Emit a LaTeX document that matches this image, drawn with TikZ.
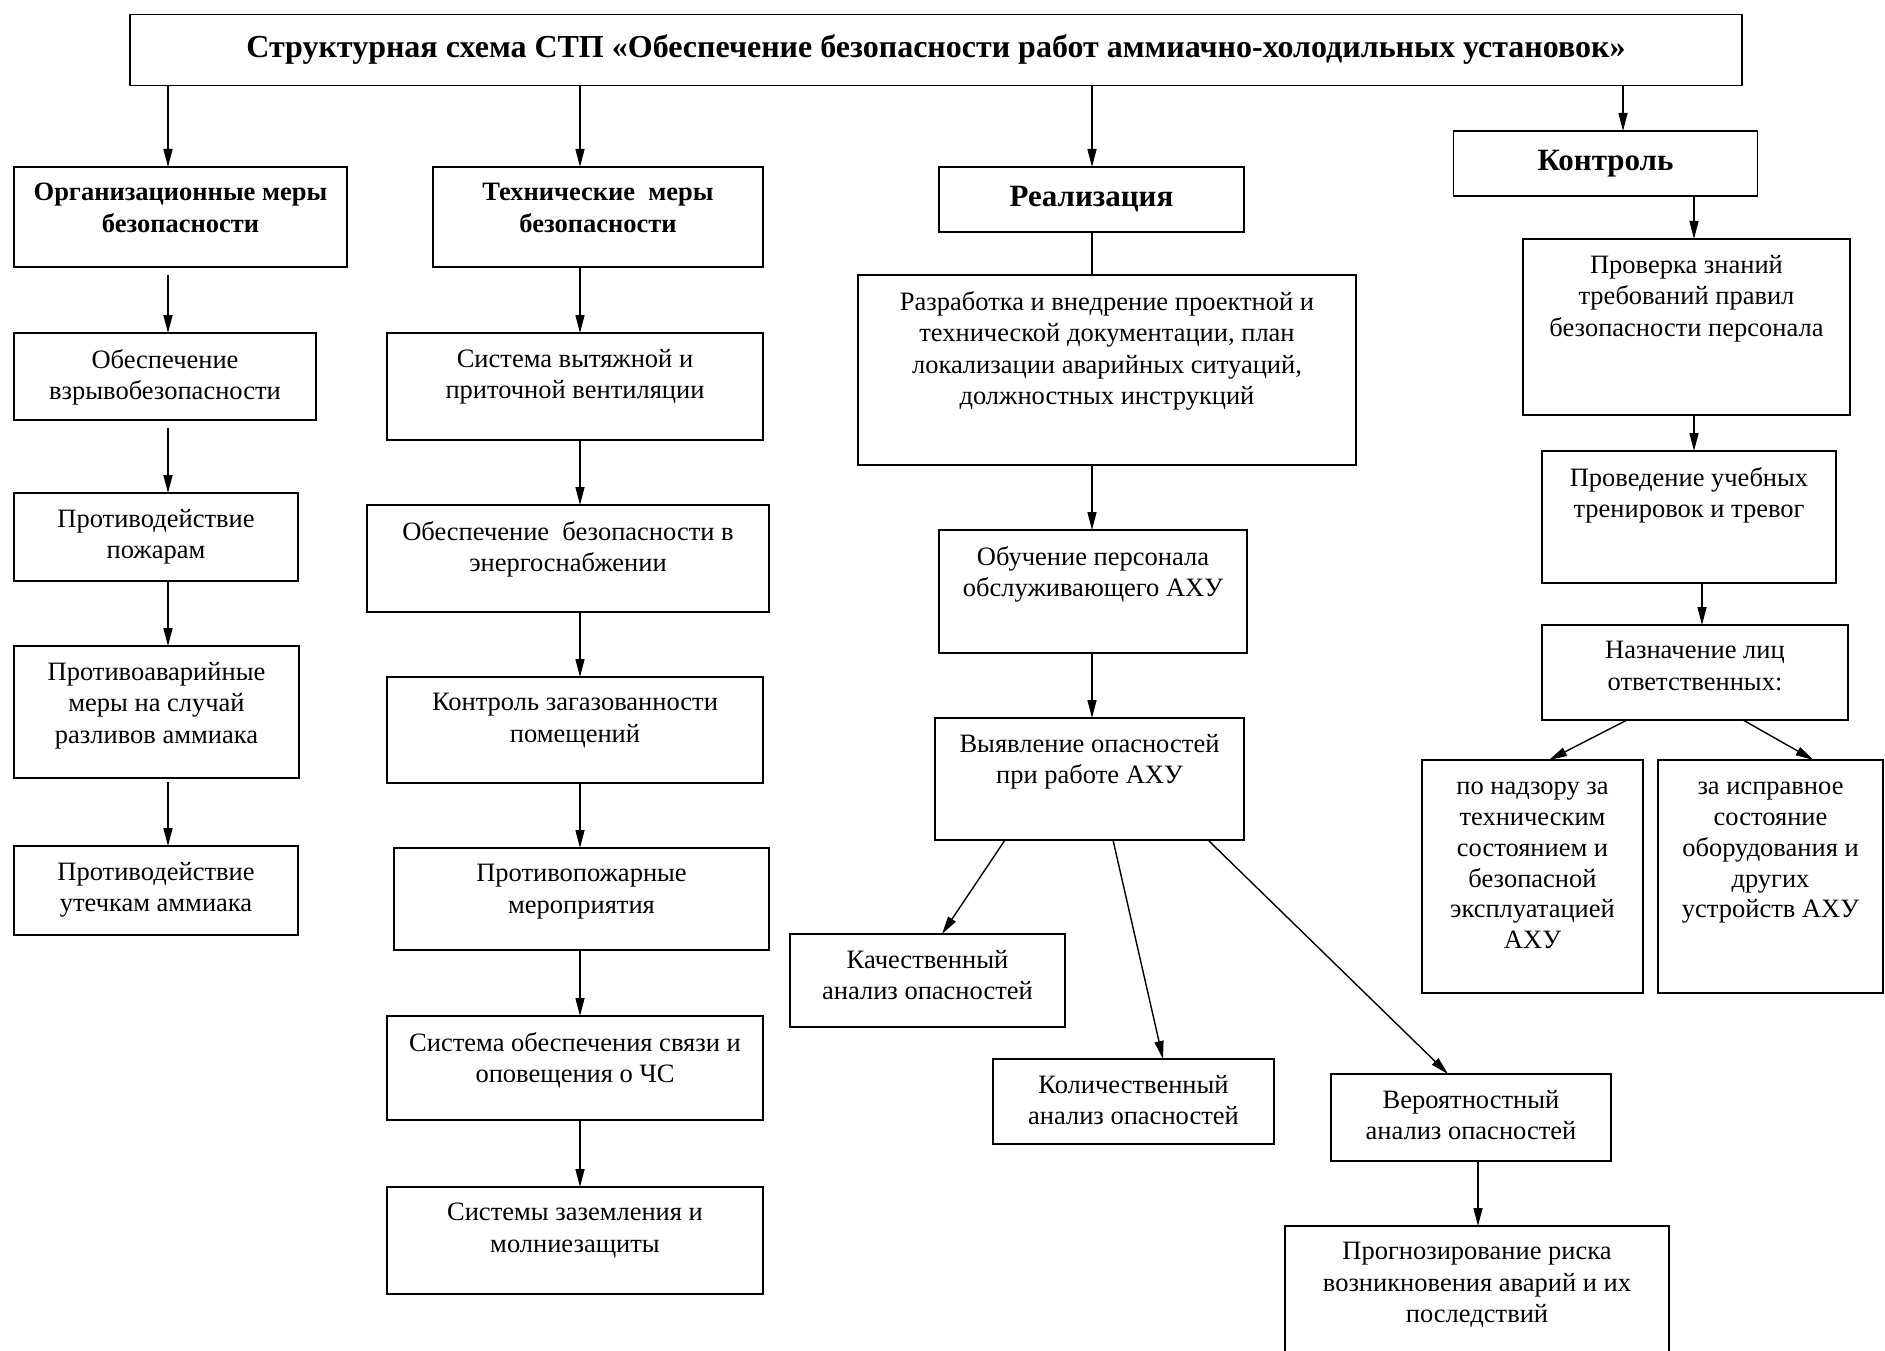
\documentclass[tikz,border=0pt]{standalone}
\usepackage{fontspec}
\setmainfont{Liberation Serif}
\usetikzlibrary{arrows.meta}
\tikzset{
  boxst/.style={draw, line width=1.8pt, inner sep=0pt, outer sep=0pt},
  txt/.style={anchor=north, align=center, inner sep=0pt, font=\fontsize{26.5}{31.5}\selectfont, execute at begin node=\strut},
  arr/.style={-{Triangle[length=18pt,width=9pt]}, line width=1.4pt},
  ln/.style={line width=1.4pt}
}
% #1 extra text style, #2 name, #3 x1, #4 y1, #5 x2, #6 y2, #7 text
\newcommand{\ubox}[7][]{%
  \node[boxst, minimum width={#5-#3}, minimum height={#6-#4}] (#2) at ({(#3+#5)/2},{(#4+#6)/2}) {};
  \node[txt,#1] (#2t) at ({(#3+#5)/2},{#4+16}) {#7};
}
\begin{document}
\begin{tikzpicture}[x=1pt,y=-1pt]
\useasboundingbox (0,0) rectangle (1885,1351);
\fill[white] (0,0) rectangle (1885,1351);

% title
\node[boxst, minimum width=1612, minimum height=71] (title) at (936,50) {};
\node[font=\fontsize{32}{38}\selectfont\bfseries, inner sep=0pt] (titlet) at (title.center) {Структурная схема СТП «Обеспечение безопасности работ аммиачно-холодильных установок»};

% level 1
\ubox[font=\fontsize{26.5}{31.5}\selectfont\bfseries]{org}{14}{167}{347}{267}{Организационные меры\\безопасности}
\ubox[font=\fontsize{26.5}{31.5}\selectfont\bfseries]{tech}{433}{167}{763}{267}{Технические~ меры\\безопасности}
\node[boxst, minimum width=305, minimum height=65] (real) at (1091.5,199.5) {};
\node[font=\fontsize{31}{36}\selectfont\bfseries, inner sep=0pt] (realt) at (real.center) {Реализация};
\node[boxst, minimum width=304, minimum height=65] (kontr) at (1605.5,163.5) {};
\node[font=\fontsize{31}{36}\selectfont\bfseries, inner sep=0pt] (kontrt) at (kontr.center) {Контроль};

% column 1
\ubox{vzryv}{14}{333}{316}{420}{Обеспечение\\взрывобезопасности}
\ubox{pozh}{14}{493}{298}{581}{Противодействие\\пожарам}
\ubox{avar}{14}{646}{299}{778}{Противоаварийные\\меры на случай\\разливов аммиака}
\ubox{utech}{14}{846}{298}{935}{Противодействие\\утечкам аммиака}

% column 2
\ubox{vent}{387}{333}{763}{440}{Система вытяжной и\\приточной вентиляции}
\ubox{energ}{367}{505}{769}{612}{Обеспечение~ безопасности в\\энергоснабжении}
\ubox{gaz}{387}{677}{763}{783}{Контроль загазованности\\помещений}
\ubox{pozhm}{394}{848}{769}{950}{Противопожарные\\мероприятия}
\ubox{svyaz}{387}{1016}{763}{1120}{Система обеспечения связи и\\оповещения о ЧС}
\ubox{zazeml}{387}{1187}{763}{1294}{Системы заземления и\\молниезащиты}

% column 3
\ubox{razr}{858}{275}{1356}{465}{Разработка и внедрение проектной и\\технической документации, план\\локализации аварийных ситуаций,\\должностных инструкций}
\ubox{obuch}{939}{530}{1247}{653}{Обучение персонала\\обслуживающего АХУ}
\ubox{vyyavl}{935}{718}{1244}{840}{Выявление опасностей\\при работе АХУ}
\ubox{kach}{790}{934}{1065}{1027}{Качественный\\анализ опасностей}
\ubox{kolich}{993}{1059}{1274}{1144}{Количественный\\анализ опасностей}
\ubox{veroyat}{1331}{1074}{1611}{1161}{Вероятностный\\анализ опасностей}
\ubox{prognoz}{1285}{1226}{1669}{1375}{Прогнозирование риска\\возникновения аварий и их\\последствий}

% column 4
\ubox{prov}{1523}{239}{1850}{415}{Проверка знаний\\требований правил\\безопасности персонала}
\ubox{trenir}{1542}{451}{1836}{583}{Проведение учебных\\тренировок и тревог}
\ubox{naznach}{1542}{625}{1848}{720}{Назначение лиц\\ответственных:}
\ubox[font=\fontsize{26.5}{30.8}\selectfont, yshift=-6pt]{nadzor}{1422}{760}{1643}{993}{по надзору за\\техническим\\состоянием и\\безопасной\\эксплуатацией\\АХУ}
\ubox[font=\fontsize{26.5}{30.8}\selectfont, yshift=-6pt]{ispr}{1658}{760}{1883}{993}{за исправное\\состояние\\оборудования и\\других\\устройств АХУ}

% arrow x positions
\coordinate (xA) at (168,0);
\coordinate (xB) at (580,0);
\coordinate (xC) at (1092,0);
\coordinate (xD) at (1623,0);
\coordinate (xE) at (1694,0);
\coordinate (xF) at (1702,0);
\coordinate (xG) at (1478,0);

% column 1 connectors
\draw[arr] (title.south -| xA) -- (org.north -| xA);
\draw[arr] ([yshift=-8pt]org.south -| xA) -- (vzryv.north -| xA);
\draw[arr] ([yshift=-8pt]vzryv.south -| xA) -- (pozh.north -| xA);
\draw[arr] (pozh.south -| xA) -- (avar.north -| xA);
\draw[arr] ([yshift=-4pt]avar.south -| xA) -- (utech.north -| xA);

% column 2 connectors
\draw[arr] (title.south -| xB) -- (tech.north -| xB);
\draw[arr] (tech.south -| xB) -- (vent.north -| xB);
\draw[arr] (vent.south -| xB) -- (energ.north -| xB);
\draw[arr] (energ.south -| xB) -- (gaz.north -| xB);
\draw[arr] (gaz.south -| xB) -- (pozhm.north -| xB);
\draw[arr] (pozhm.south -| xB) -- (svyaz.north -| xB);
\draw[arr] (svyaz.south -| xB) -- (zazeml.north -| xB);

% column 3 connectors
\draw[arr] (title.south -| xC) -- (real.north -| xC);
\draw[ln] (real.south -| xC) -- (razr.north -| xC);
\draw[arr] (razr.south -| xC) -- (obuch.north -| xC);
\draw[arr] (obuch.south -| xC) -- (vyyavl.north -| xC);
\draw[arr] ([xshift=-84.5pt]vyyavl.south) -- ([xshift=14.5pt]kach.north);
\draw[arr] ([xshift=23.5pt]vyyavl.south) -- ([xshift=29.5pt]kolich.north);
\draw[arr] ([xshift=118.5pt]vyyavl.south) -- ([xshift=-23pt]veroyat.north);
\draw[arr] (veroyat.south -| xG) -- (prognoz.north -| xG);

% column 4 connectors
\draw[arr] (title.south -| xD) -- (kontr.north -| xD);
\draw[arr] (kontr.south -| xE) -- (prov.north -| xE);
\draw[arr] (prov.south -| xE) -- (trenir.north -| xE);
\draw[arr] (trenir.south -| xF) -- (naznach.north -| xF);
\draw[arr] ([xshift=-68pt]naznach.south) -- ([xshift=16.5pt]nadzor.north);
\draw[arr] ([xshift=48pt]naznach.south) -- ([xshift=43pt]ispr.north);
\end{tikzpicture}
\end{document}
